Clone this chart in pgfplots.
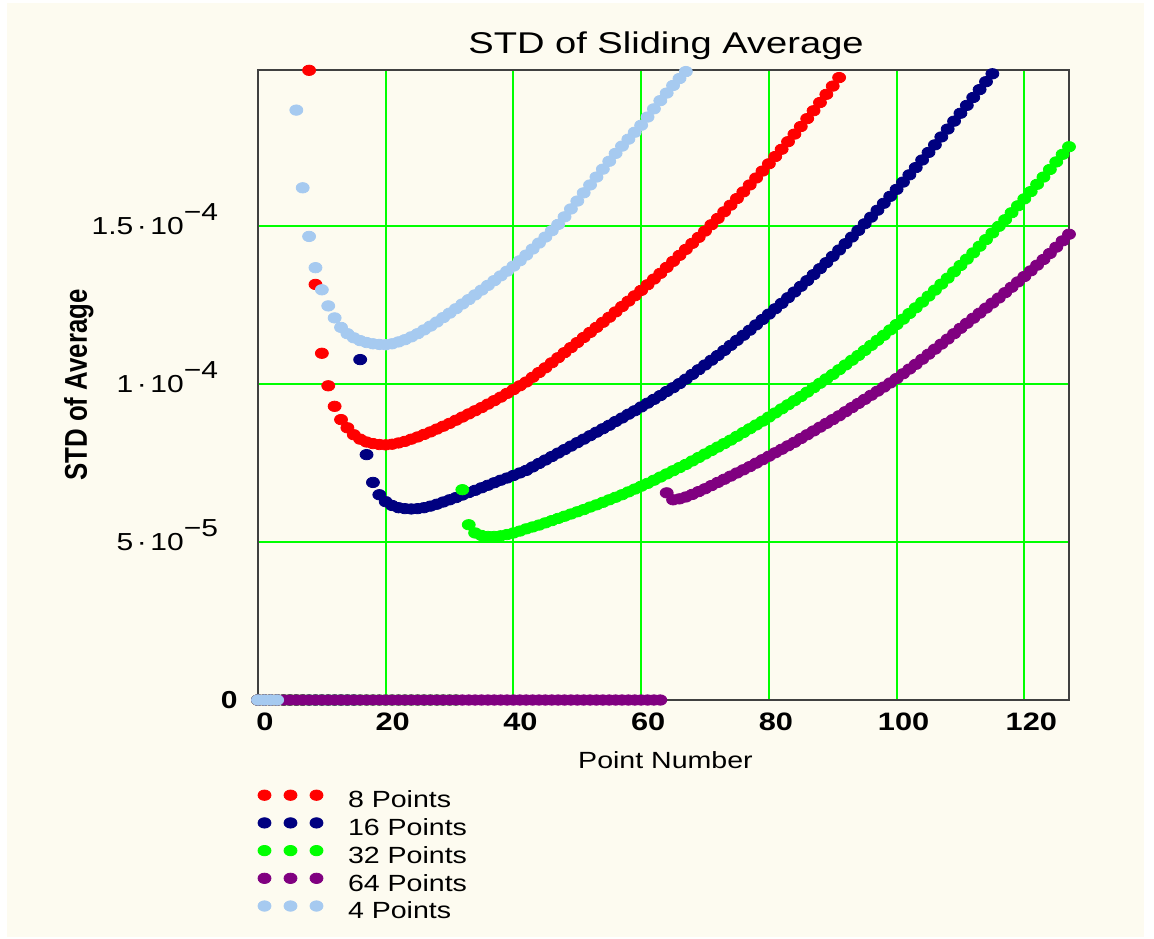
\documentclass[border=0pt]{standalone}
\usepackage{pgfplots}
\pgfplotsset{compat=1.18}
\usepackage{graphicx}
\usepackage{fontspec}
\setmainfont{Liberation Sans}
\definecolor{bgcream}{RGB}{253,251,240}
\definecolor{gridgreen}{RGB}{0,255,0}
\definecolor{sRed}{RGB}{255,0,0}
\definecolor{sNavy}{RGB}{0,0,128}
\definecolor{sGreen}{RGB}{0,255,0}
\definecolor{sPurple}{RGB}{128,0,128}
\definecolor{sSky}{RGB}{166,202,240}
\newcommand{\hs}[2][1.22]{\scalebox{#1}[1]{#2}}
\newcommand{\expo}[1]{\raisebox{7pt}[0pt][0pt]{#1}}
\newcommand{\cd}{\kern0.12em·\kern0.12em}
\begin{document}
\begin{tikzpicture}
\path[use as bounding box] (-129pt,-119pt) rectangle (448pt,350pt);
\fill[white] (-129pt,-119pt) rectangle (448pt,350pt);
\fill[bgcream] (-125.5pt,-118.5pt) rectangle (443pt,348.5pt);
\begin{axis}[
  at={(0pt,0pt)}, anchor=south west,
  scale only axis, width=405.5pt, height=315pt,
  xmin=0, xmax=127, ymin=0, ymax=1.995e-4,
  xtick={0,20,40,60,80,100,120},
  xticklabels={{\hs{\textbf{0}}},{\hs{\textbf{20}}},{\hs{\textbf{40}}},{\hs{\textbf{60}}},{\hs{\textbf{80}}},{\hs{\textbf{100}}},{\hs{\textbf{120}}}},
  ytick={0,5e-5,1e-4,1.5e-4},
  yticklabels={{\hs{\textbf{0}}\hspace*{-12pt}},{\hs{5\cd10\expo{−5}}},{\hs{1\cd10\expo{−4}}},{\hs{1.5\cd10\expo{−4}}}},
  scaled y ticks=false,
  major tick length=0pt,
  grid=major,
  major grid style={gridgreen, line width=1pt},
  axis line style={draw=black!75, line width=1pt},
  xticklabel style={font=\fontsize{12.6}{15}\selectfont, anchor=north, inner sep=0pt, yshift=-6pt, xshift=3.5pt},
  yticklabel style={font=\fontsize{12.3}{15}\selectfont, anchor=east, inner sep=0pt, xshift=-19.75pt},
  title={\hs[1.27]{STD of Sliding Average}},
  title style={font=\fontsize{15}{18}\selectfont, at={(axis description cs:0.5,1)}, anchor=base, inner sep=0pt, yshift=2pt, xshift=1.25pt},
  xlabel={\hs{Point Number}},
  xlabel style={font=\fontsize{11.7}{14}\selectfont, at={(axis description cs:0.5,0)}, anchor=base, inner sep=0pt, yshift=-34pt, xshift=1pt},
  ylabel={\scalebox{1}[1.22]{\textbf{STD of Average}}},
  ylabel style={font=\fontsize{12.9}{15}\selectfont, at={(axis description cs:-0.2109,0.5)}, anchor=base, inner sep=0pt},
  every axis plot/.append style={only marks, mark=*, mark size=2.6pt, mark options={solid, xscale=1.25}},
  legend style={
    at={(axis description cs:0,0)}, anchor=north west,
    xshift=0pt, yshift=-45pt,
    draw=none, fill=none, inner sep=0pt, outer sep=0pt,
    font=\fontsize{11.7}{14}\selectfont,
    row sep=3.4pt, column sep=12.5pt,
    nodes={inner sep=0pt, anchor=base west},
  },
  legend image code/.code={\draw[#1] plot coordinates {(0pt,6.35pt) (13pt,6.35pt) (26pt,6.35pt)};},
]
% 8 Points
\addplot[color=sRed] coordinates {
(0,0)(1,0)(2,0)(3,0)(4,0)(5,0)(6,0)(7,0)
(8,1.994e-4)(9,1.316e-4)(10,1.098e-4)(11,0.995e-4)(12,0.930e-4)(13,0.888e-4)(14,0.862e-4)(15,0.840e-4)(16,0.826e-4)(17,0.817e-4)(18,0.812e-4)(19,0.809e-4)(20,0.808e-4)(21,0.810e-4)(22,0.814e-4)(23,0.819e-4)(24,0.826e-4)(25,0.833e-4)(26,0.841e-4)(27,0.849e-4)(28,0.858e-4)(29,0.867e-4)(30,0.876e-4)(31,0.886e-4)(32,0.896e-4)(33,0.906e-4)(34,0.916e-4)(35,0.926e-4)(36,0.937e-4)(37,0.948e-4)(38,0.959e-4)(39,0.971e-4)(40,0.983e-4)(41,0.995e-4)(42,1.007e-4)(43,1.022e-4)(44,1.037e-4)(45,1.052e-4)(46,1.068e-4)(47,1.084e-4)(48,1.100e-4)(49,1.116e-4)(50,1.132e-4)(51,1.148e-4)(52,1.164e-4)(53,1.180e-4)(54,1.196e-4)(55,1.212e-4)(56,1.229e-4)(57,1.246e-4)(58,1.263e-4)(59,1.280e-4)(60,1.297e-4)(61,1.315e-4)(62,1.333e-4)(63,1.351e-4)(64,1.370e-4)(65,1.389e-4)(66,1.408e-4)(67,1.427e-4)(68,1.446e-4)(69,1.465e-4)(70,1.485e-4)(71,1.505e-4)(72,1.525e-4)(73,1.546e-4)(74,1.567e-4)(75,1.588e-4)(76,1.609e-4)(77,1.631e-4)(78,1.653e-4)(79,1.675e-4)(80,1.698e-4)(81,1.721e-4)(82,1.744e-4)(83,1.768e-4)(84,1.792e-4)(85,1.816e-4)(86,1.841e-4)(87,1.866e-4)(88,1.892e-4)(89,1.918e-4)(90,1.944e-4)(91,1.971e-4)(92,1.998e-4)(93,2.025e-4)
};
\addlegendentry{\hs{8 Points}}
% 16 Points
\addplot[color=sNavy] coordinates {
(0,0)(1,0)(2,0)(3,0)(4,0)(5,0)(6,0)(7,0)(8,0)(9,0)(10,0)(11,0)(12,0)(13,0)(14,0)(15,0)
(16,1.078e-4)(17,0.777e-4)(18,0.689e-4)(19,0.650e-4)(20,0.628e-4)(21,0.616e-4)(22,0.609e-4)(23,0.606e-4)(24,0.605e-4)(25,0.606e-4)(26,0.609e-4)(27,0.614e-4)(28,0.620e-4)(29,0.627e-4)(30,0.634e-4)(31,0.641e-4)(32,0.649e-4)(33,0.657e-4)(34,0.664e-4)(35,0.672e-4)(36,0.680e-4)(37,0.688e-4)(38,0.696e-4)(39,0.703e-4)(40,0.711e-4)(41,0.719e-4)(42,0.727e-4)(43,0.738e-4)(44,0.749e-4)(45,0.760e-4)(46,0.771e-4)(47,0.782e-4)(48,0.793e-4)(49,0.804e-4)(50,0.815e-4)(51,0.826e-4)(52,0.837e-4)(53,0.848e-4)(54,0.859e-4)(55,0.870e-4)(56,0.882e-4)(57,0.893e-4)(58,0.905e-4)(59,0.916e-4)(60,0.928e-4)(61,0.940e-4)(62,0.952e-4)(63,0.964e-4)(64,0.977e-4)(65,0.989e-4)(66,1.002e-4)(67,1.016e-4)(68,1.031e-4)(69,1.046e-4)(70,1.061e-4)(71,1.076e-4)(72,1.091e-4)(73,1.107e-4)(74,1.123e-4)(75,1.139e-4)(76,1.155e-4)(77,1.171e-4)(78,1.188e-4)(79,1.205e-4)(80,1.222e-4)(81,1.239e-4)(82,1.256e-4)(83,1.274e-4)(84,1.292e-4)(85,1.310e-4)(86,1.328e-4)(87,1.347e-4)(88,1.366e-4)(89,1.385e-4)(90,1.405e-4)(91,1.425e-4)(92,1.445e-4)(93,1.466e-4)(94,1.487e-4)(95,1.508e-4)(96,1.529e-4)(97,1.551e-4)(98,1.573e-4)(99,1.595e-4)(100,1.617e-4)(101,1.640e-4)(102,1.663e-4)(103,1.686e-4)(104,1.710e-4)(105,1.734e-4)(106,1.758e-4)(107,1.783e-4)(108,1.808e-4)(109,1.833e-4)(110,1.858e-4)(111,1.883e-4)(112,1.908e-4)(113,1.933e-4)(114,1.958e-4)(115,1.983e-4)(116,2.008e-4)
};
\addlegendentry{\hs{16 Points}}
% 32 Points
\addplot[color=sGreen] coordinates {
(0,0)(1,0)(2,0)(3,0)(4,0)(5,0)(6,0)(7,0)(8,0)(9,0)(10,0)(11,0)(12,0)(13,0)(14,0)(15,0)(16,0)(17,0)(18,0)(19,0)(20,0)(21,0)(22,0)(23,0)(24,0)(25,0)(26,0)(27,0)(28,0)(29,0)(30,0)(31,0)
(32,0.666e-4)(33,0.555e-4)(34,0.529e-4)(35,0.521e-4)(36,0.518e-4)(37,0.518e-4)(38,0.520e-4)(39,0.524e-4)(40,0.529e-4)(41,0.535e-4)(42,0.542e-4)(43,0.548e-4)(44,0.554e-4)(45,0.561e-4)(46,0.568e-4)(47,0.575e-4)(48,0.582e-4)(49,0.589e-4)(50,0.596e-4)(51,0.603e-4)(52,0.611e-4)(53,0.618e-4)(54,0.626e-4)(55,0.634e-4)(56,0.642e-4)(57,0.650e-4)(58,0.659e-4)(59,0.668e-4)(60,0.677e-4)(61,0.686e-4)(62,0.696e-4)(63,0.706e-4)(64,0.716e-4)(65,0.726e-4)(66,0.736e-4)(67,0.746e-4)(68,0.757e-4)(69,0.768e-4)(70,0.779e-4)(71,0.790e-4)(72,0.801e-4)(73,0.812e-4)(74,0.823e-4)(75,0.835e-4)(76,0.847e-4)(77,0.859e-4)(78,0.871e-4)(79,0.883e-4)(80,0.896e-4)(81,0.909e-4)(82,0.922e-4)(83,0.935e-4)(84,0.948e-4)(85,0.961e-4)(86,0.975e-4)(87,0.989e-4)(88,1.003e-4)(89,1.017e-4)(90,1.031e-4)(91,1.046e-4)(92,1.061e-4)(93,1.076e-4)(94,1.091e-4)(95,1.107e-4)(96,1.123e-4)(97,1.139e-4)(98,1.155e-4)(99,1.172e-4)(100,1.189e-4)(101,1.206e-4)(102,1.224e-4)(103,1.242e-4)(104,1.260e-4)(105,1.279e-4)(106,1.298e-4)(107,1.317e-4)(108,1.336e-4)(109,1.356e-4)(110,1.376e-4)(111,1.396e-4)(112,1.416e-4)(113,1.437e-4)(114,1.458e-4)(115,1.479e-4)(116,1.500e-4)(117,1.521e-4)(118,1.543e-4)(119,1.565e-4)(120,1.587e-4)(121,1.610e-4)(122,1.633e-4)(123,1.656e-4)(124,1.680e-4)(125,1.704e-4)(126,1.728e-4)(127,1.752e-4)
};
\addlegendentry{\hs{32 Points}}
% 64 Points
\addplot[color=sPurple] coordinates {
(0,0)(1,0)(2,0)(3,0)(4,0)(5,0)(6,0)(7,0)(8,0)(9,0)(10,0)(11,0)(12,0)(13,0)(14,0)(15,0)(16,0)(17,0)(18,0)(19,0)(20,0)(21,0)(22,0)(23,0)(24,0)(25,0)(26,0)(27,0)(28,0)(29,0)(30,0)(31,0)(32,0)(33,0)(34,0)(35,0)(36,0)(37,0)(38,0)(39,0)(40,0)(41,0)(42,0)(43,0)(44,0)(45,0)(46,0)(47,0)(48,0)(49,0)(50,0)(51,0)(52,0)(53,0)(54,0)(55,0)(56,0)(57,0)(58,0)(59,0)(60,0)(61,0)(62,0)(63,0)
(64,0.656e-4)(65,0.634e-4)(66,0.637e-4)(67,0.643e-4)(68,0.651e-4)(69,0.660e-4)(70,0.669e-4)(71,0.679e-4)(72,0.689e-4)(73,0.699e-4)(74,0.709e-4)(75,0.719e-4)(76,0.729e-4)(77,0.739e-4)(78,0.750e-4)(79,0.761e-4)(80,0.772e-4)(81,0.783e-4)(82,0.794e-4)(83,0.805e-4)(84,0.816e-4)(85,0.828e-4)(86,0.840e-4)(87,0.852e-4)(88,0.864e-4)(89,0.876e-4)(90,0.888e-4)(91,0.900e-4)(92,0.913e-4)(93,0.926e-4)(94,0.939e-4)(95,0.952e-4)(96,0.965e-4)(97,0.978e-4)(98,0.991e-4)(99,1.004e-4)(100,1.018e-4)(101,1.033e-4)(102,1.048e-4)(103,1.063e-4)(104,1.079e-4)(105,1.095e-4)(106,1.111e-4)(107,1.127e-4)(108,1.143e-4)(109,1.160e-4)(110,1.177e-4)(111,1.193e-4)(112,1.209e-4)(113,1.225e-4)(114,1.241e-4)(115,1.257e-4)(116,1.273e-4)(117,1.290e-4)(118,1.307e-4)(119,1.324e-4)(120,1.341e-4)(121,1.359e-4)(122,1.377e-4)(123,1.395e-4)(124,1.414e-4)(125,1.434e-4)(126,1.454e-4)(127,1.475e-4)
};
\addlegendentry{\hs{64 Points}}
% 4 Points
\addplot[color=sSky] coordinates {
(0,0)(1,0)(2,0)(3,0)
(6,1.868e-4)(7,1.622e-4)(8,1.468e-4)(9,1.369e-4)(10,1.299e-4)(11,1.248e-4)(12,1.210e-4)(13,1.180e-4)(14,1.160e-4)(15,1.147e-4)(16,1.138e-4)(17,1.132e-4)(18,1.128e-4)(19,1.126e-4)(20,1.125e-4)(21,1.128e-4)(22,1.134e-4)(23,1.141e-4)(24,1.150e-4)(25,1.160e-4)(26,1.172e-4)(27,1.184e-4)(28,1.197e-4)(29,1.211e-4)(30,1.225e-4)(31,1.239e-4)(32,1.254e-4)(33,1.268e-4)(34,1.283e-4)(35,1.298e-4)(36,1.313e-4)(37,1.328e-4)(38,1.343e-4)(39,1.358e-4)(40,1.374e-4)(41,1.391e-4)(42,1.409e-4)(43,1.428e-4)(44,1.447e-4)(45,1.466e-4)(46,1.486e-4)(47,1.506e-4)(48,1.530e-4)(49,1.555e-4)(50,1.580e-4)(51,1.606e-4)(52,1.631e-4)(53,1.656e-4)(54,1.681e-4)(55,1.706e-4)(56,1.731e-4)(57,1.754e-4)(58,1.776e-4)(59,1.798e-4)(60,1.820e-4)(61,1.846e-4)(62,1.872e-4)(63,1.898e-4)(64,1.922e-4)(65,1.946e-4)(66,1.968e-4)(67,1.990e-4)(68,2.012e-4)
};
\addlegendentry{\hs{4 Points}}
\end{axis}
\end{tikzpicture}
\end{document}
